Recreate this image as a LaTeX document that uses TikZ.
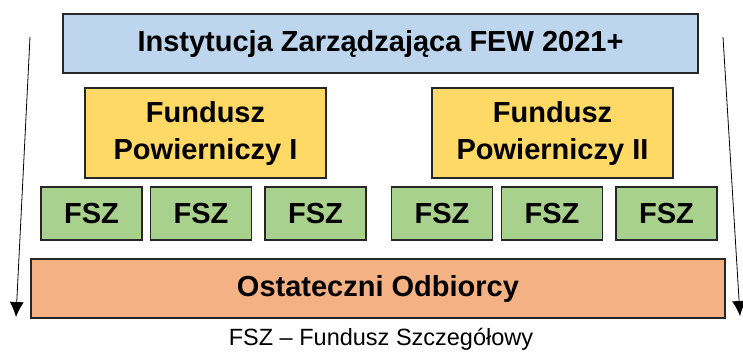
\documentclass[tikz,border=0pt]{standalone}
\usepackage{fontspec}
\setmainfont{Liberation Sans}
\usetikzlibrary{arrows.meta}
\begin{document}
\begin{tikzpicture}[x=1pt,y=-1pt,
  box/.style={draw=black!85,line width=1.3pt,inner sep=0pt,font=\bfseries\fontsize{29}{37}\selectfont,align=center},
  arr/.style={-{Latex[length=15pt,width=14pt]},line width=0.8pt}]
\useasboundingbox (0,0) rectangle (743,354);
\node[box,fill={rgb,255:red,190;green,213;blue,238},minimum width=635,minimum height=59] (ins) at (380.5,43.5) {Instytucja Zarządzająca FEW 2021+};
\node[box,fill={rgb,255:red,255;green,217;blue,102},minimum width=241,minimum height=90] (fp1) at (205.5,133) {Fundusz\\Powierniczy I};
\node[box,fill={rgb,255:red,255;green,217;blue,102},minimum width=241,minimum height=90] (fp2) at (552.5,133) {Fundusz\\Powierniczy II};
\foreach \n/\x in {1/91.5,2/201,3/315.5,4/442,5/552,6/666.5}
  \node[box,fill={rgb,255:red,169;green,209;blue,142},minimum width=101,minimum height=53] (f\n) at (\x,213.5) {FSZ};
\node[box,fill={rgb,255:red,244;green,177;blue,131},minimum width=694,minimum height=59] (odb) at (378,288.5) {Ostateczni Odbiorcy};
\coordinate (la) at (30,37);
\coordinate (lb) at (16,317);
\coordinate (ra) at (723,37);
\coordinate (rb) at (740,316);
\draw[arr] (la) -- (lb);
\draw[arr] (ra) -- (rb);
\node[font=\fontsize{23.5}{27}\selectfont,inner sep=0pt,anchor=base] (leg) at (381,345) {FSZ – Fundusz Szczegółowy};
\end{tikzpicture}
\end{document}
